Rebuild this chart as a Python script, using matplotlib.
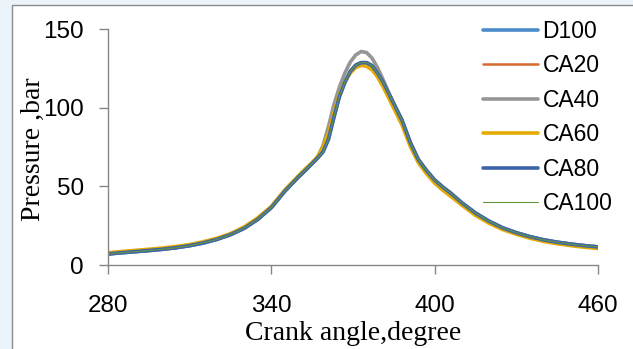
import matplotlib
matplotlib.use('Agg')
import matplotlib.pyplot as plt
from matplotlib.patches import Rectangle

# Crank angle grid (degree) shared by all fuel blends
angle = [280, 285, 290, 295, 300, 305, 310, 315, 320, 325, 330, 335, 340, 345,
         350, 353, 355, 357, 359, 361, 363, 365, 367, 369, 371, 373, 375, 377,
         379, 381, 383, 385, 388, 391, 394, 397, 400, 403, 406, 410, 415, 420,
         425, 430, 435, 440, 445, 450, 455, 460]

# Cylinder pressure (bar)
d100 = [7.0, 7.8, 8.5, 9.2, 10.0, 11.0, 12.3, 14.0, 16.3, 19.3, 23.3, 29.0, 36.5, 47.0,
        56.0, 61.0, 64.5, 68.0, 72.0, 80.0, 94.0, 107.0, 116.0, 123.0, 127.0, 128.6, 128.6, 126.7,
        122.0, 116.5, 109.5, 102.5, 92.0, 78.0, 67.0, 60.0, 54.0, 49.5, 45.5, 39.5, 33.0, 27.8,
        23.6, 20.5, 18.0, 16.0, 14.5, 13.3, 12.3, 11.5]
ca20 = [7.0, 7.8, 8.5, 9.2, 10.0, 11.0, 12.3, 14.0, 16.3, 19.3, 23.3, 29.0, 36.5, 47.0,
        56.0, 61.0, 64.5, 68.0, 72.5, 81.0, 95.0, 107.5, 116.5, 123.5, 127.3, 128.8, 128.7, 126.8,
        122.2, 116.7, 109.7, 102.6, 92.0, 78.0, 67.0, 60.0, 54.0, 49.5, 45.5, 39.5, 33.0, 27.8,
        23.6, 20.5, 18.0, 16.0, 14.5, 13.3, 12.3, 11.5]
ca40 = [7.0, 7.8, 8.5, 9.2, 10.0, 11.0, 12.3, 14.0, 16.3, 19.3, 23.3, 29.0, 36.5, 47.0,
        56.0, 61.0, 65.0, 68.5, 76.0, 88.0, 102.0, 113.0, 122.0, 129.0, 133.5, 135.7, 135.0, 131.5,
        125.5, 118.0, 110.0, 102.5, 92.0, 78.0, 67.0, 60.0, 54.0, 49.5, 45.5, 39.5, 33.0, 27.8,
        23.6, 20.5, 18.0, 16.0, 14.5, 13.3, 12.3, 11.5]
ca60 = [7.8, 8.6, 9.3, 10.0, 10.8, 11.8, 13.0, 14.8, 17.0, 20.0, 24.2, 30.0, 37.3, 47.8,
        56.8, 62.0, 65.0, 69.0, 75.0, 84.0, 97.0, 108.5, 116.5, 122.0, 125.5, 126.8, 126.3, 124.0,
        119.5, 113.5, 106.5, 99.5, 89.0, 75.5, 65.0, 58.0, 52.0, 47.5, 43.5, 38.0, 31.5, 26.5,
        22.5, 19.5, 17.0, 15.0, 13.5, 12.3, 11.3, 10.5]
ca80 = [7.0, 7.8, 8.5, 9.2, 10.0, 11.0, 12.3, 14.0, 16.3, 19.3, 23.3, 29.0, 36.5, 47.0,
        56.0, 61.0, 64.5, 68.0, 72.0, 80.0, 94.0, 107.0, 116.0, 123.0, 127.0, 128.6, 128.6, 126.7,
        122.0, 116.5, 109.5, 102.5, 92.0, 78.0, 67.0, 60.0, 54.0, 49.5, 45.5, 39.5, 33.0, 27.8,
        23.6, 20.5, 18.0, 16.0, 14.5, 13.3, 12.3, 11.5]
ca100 = [7.0, 7.8, 8.5, 9.2, 10.0, 11.0, 12.3, 14.0, 16.3, 19.3, 23.3, 29.0, 36.5, 47.0,
         56.0, 61.0, 64.5, 68.0, 72.0, 80.0, 94.0, 107.0, 116.0, 123.0, 127.0, 128.6, 128.6, 126.7,
         122.0, 116.5, 109.5, 102.5, 92.0, 78.0, 67.0, 60.0, 54.0, 49.5, 45.5, 39.5, 33.0, 27.8,
         23.6, 20.5, 18.0, 16.0, 14.5, 13.3, 12.3, 11.5]

series = [('D100', d100, '#4a8bc9', 2.6),
          ('CA20', ca20, '#d8692c', 1.8),
          ('CA40', ca40, '#969696', 2.6),
          ('CA60', ca60, '#e5ab00', 2.6),
          ('CA80', ca80, '#3d63ad', 2.6),
          ('CA100', ca100, '#66983e', 0.8)]

fig = plt.figure(figsize=(6.33, 3.49), dpi=100, facecolor='#eaf4fa')
# white chart area with a thin grey frame, as pasted from a spreadsheet
fig.patches.append(Rectangle((12 / 633, -0.1), 1.2, 1.1 - 5 / 349,
                             transform=fig.transFigure, facecolor='white',
                             edgecolor='#8c8c8c', linewidth=1.0, zorder=-5))

ax = fig.add_axes([108 / 633, 1 - 265 / 349, 490 / 633, 236 / 349])
ax.set_facecolor('none')

for name, vals, color, lw in series:
    ax.plot(angle, vals, color=color, lw=lw, label=name, solid_capstyle='round')

ax.set_xlim(280, 460)
ax.set_ylim(0, 150)
ax.set_xticks([280, 340, 400, 460])
ax.set_yticks([0, 50, 100, 150])

for side in ['top', 'right']:
    ax.spines[side].set_visible(False)
for side in ['left', 'bottom']:
    ax.spines[side].set_color('#868686')
    ax.spines[side].set_linewidth(1.0)

ax.tick_params(axis='both', direction='out', length=6.5, width=1.0, color='#868686')
ax.tick_params(axis='x', pad=15)
ax.tick_params(axis='y', pad=11)
for lbl in ax.get_xticklabels() + ax.get_yticklabels():
    lbl.set_fontfamily('Liberation Sans')
    lbl.set_fontsize(17.5)

ax.set_xlabel('Crank angle,degree', family='Liberation Serif', fontsize=20)
ax.xaxis.label.set_va('baseline')
ax.xaxis.set_label_coords(0.5, -(340 - 265) / 236)
ax.set_ylabel('Pressure ,bar', family='Liberation Serif', fontsize=20)
ax.yaxis.label.set_va('center')
ax.yaxis.set_label_coords((33 - 108) / 490, (265 - 149.5) / 236)

ax.legend(loc='upper left', bbox_to_anchor=(483 / 633, 1 - 20 / 349),
          bbox_transform=fig.transFigure, frameon=False, borderpad=0,
          borderaxespad=0, handlelength=2.4, handletextpad=0.2,
          labelspacing=0.5, prop={'family': 'Liberation Sans', 'size': 16.5})

fig.savefig('out.png', dpi=100, facecolor=fig.get_facecolor())
